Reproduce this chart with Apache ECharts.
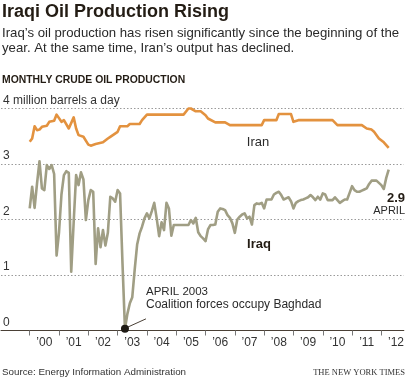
<!DOCTYPE html>
<html>
<head>
<meta charset="utf-8">
<script src="https://cdn.jsdelivr.net/npm/echarts@6/dist/echarts.min.js"></script>
<style>
html,body{margin:0;padding:0;background:#fff;}
#c{width:407px;height:380px;}
</style>
</head>
<body>
<div id="c"></div>
<script>
// ---- DATA ----
const START_YEAR = 2000; // Iraq series starts January 2000, monthly
const iraqValues = [
  2.20,2.59,2.21,2.65,3.05,2.56,2.53,2.98,2.91,2.98,2.82,1.35,
  1.77,2.45,2.80,2.87,2.84,1.06,1.95,2.80,2.62,2.85,2.72,1.99,
  2.35,2.53,2.50,1.20,1.84,1.50,1.81,1.53,1.76,2.41,2.38,2.32,
  2.53,2.47,1.20,0.03,0.30,0.49,0.60,1.10,1.55,1.75,1.87,2.02,
  2.11,2.02,2.15,2.30,2.02,1.70,1.95,1.81,2.30,2.20,1.71,1.90,
  1.90,1.90,1.90,1.90,1.90,1.90,1.99,1.93,2.03,1.77,1.70,1.66,
  1.61,1.82,1.90,1.90,1.91,2.14,2.20,2.19,2.17,2.08,2.03,1.93,
  1.76,2.00,2.05,2.09,2.11,2.02,2.05,1.91,2.26,2.29,2.28,2.30,
  2.20,2.36,2.36,2.36,2.45,2.48,2.50,2.44,2.36,2.38,2.40,2.33,
  2.20,2.30,2.33,2.35,2.36,2.38,2.40,2.44,2.40,2.35,2.41,2.36,
  2.47,2.45,2.35,2.35,2.35,2.40,2.35,2.30,2.33,2.36,2.36,2.48,
  2.60,2.53,2.50,2.50,2.52,2.54,2.56,2.64,2.70,2.70,2.70,2.66,
  2.62,2.55,2.75,2.90
];
const iranMonths = ['2000-01','2000-02','2000-03','2000-04','2000-05','2000-06','2000-08','2000-09','2000-11','2000-12',
  '2001-02','2001-03','2001-05','2001-07','2001-08','2001-09','2001-11',
  '2002-01','2002-02','2002-04','2002-07','2002-09','2002-10',
  '2003-01','2003-02','2003-05','2003-06','2003-10','2003-11',
  '2004-01',
  '2005-04','2005-06','2005-07','2005-09','2005-11',
  '2006-01','2006-02','2006-05','2006-09','2006-11',
  '2007-12',
  '2008-01','2008-06','2008-07','2008-12',
  '2009-01','2009-03',
  '2010-05','2010-07',
  '2011-05','2011-07','2011-09','2011-10','2011-12',
  '2012-02','2012-04'];
const iranValues = [3.40,3.46,3.68,3.61,3.62,3.67,3.69,3.76,3.78,3.89,
  3.76,3.79,3.64,3.84,3.64,3.52,3.49,
  3.35,3.33,3.36,3.39,3.46,3.49,
  3.58,3.68,3.68,3.72,3.72,3.79,
  3.89,
  3.89,4.00,4.00,3.95,3.95,
  3.88,3.82,3.75,3.75,3.70,
  3.70,
  3.79,3.79,3.90,3.90,
  3.76,3.79,
  3.79,3.70,
  3.70,3.64,3.62,3.58,3.46,
  3.39,3.29];
const yearLabels = ['\u201900','\u201901','\u201902','\u201903','\u201904','\u201905','\u201906','\u201907','\u201908','\u201909','\u201910','\u201911','\u201912'];
const yTickLabels = ['0','1','2','3','4 million barrels a day'];
const eventMonth = '2003-04';

// ---- helpers ----
function monthIndex(s){ const p = s.split('-'); return (+p[0]-START_YEAR)*12 + (+p[1]-1); }
const iraqData = iraqValues.map((v,i)=>[i,v]);
const iranData = iranMonths.map((m,i)=>[monthIndex(m), iranValues[i]]);
const yearTicks = yearLabels.map((_,i)=>i*12);
const yearMids = yearLabels.map((_,i)=>i*12+6);
const evIdx = monthIndex(eventMonth);

const FONT = 'Liberation Sans, Arial, Helvetica, sans-serif';
const chart = echarts.init(document.getElementById('c'), null, {renderer:'canvas'});
chart.setOption({
  animation:false,
  backgroundColor:'#fff',
  grid:{left:0,right:0,top:108.5,bottom:49.5},
  xAxis:{
    type:'value', min:-11.76, max:153.2,
    splitLine:{show:false},
    axisLine:{show:true,lineStyle:{color:'#4a4036',width:1}},
    axisTick:{show:true,customValues:yearTicks,length:5,inside:false,lineStyle:{color:'#777'}},
    axisLabel:{customValues:yearMids,margin:6,color:'#333',fontSize:12,fontFamily:FONT,
      formatter:(v)=>yearLabels[Math.round((v-6)/12)]}
  },
  yAxis:{
    type:'value', min:0, max:4, interval:1,
    axisLine:{show:false}, axisTick:{show:false},
    splitLine:{show:true,lineStyle:{color:'#9a9a9a',type:[1.5,2],width:1}},
    axisLabel:{inside:true,margin:2,verticalAlign:'bottom',padding:[0,0,2,0],color:'#333',fontSize:12,fontFamily:FONT,
      formatter:(v)=>yTickLabels[v]}
  },
  series:[
    {type:'line',name:'Iran',data:iranData,showSymbol:false,clip:false,
      lineStyle:{color:'#e3923f',width:2.6,join:'round'},z:3},
    {type:'line',name:'Iraq',data:iraqData,showSymbol:false,clip:false,
      lineStyle:{color:'#a09e84',width:2.6,join:'round'},z:4,
      markPoint:{symbol:'circle',symbolSize:8,silent:true,
        itemStyle:{color:'#1e1a14'},label:{show:false},
        data:[{coord:[evIdx,iraqValues[evIdx]]}]},
      markLine:{symbol:'none',silent:true,lineStyle:{color:'#4a4036',width:1,type:'solid'},label:{show:false},
        data:[[{coord:[evIdx+0.6,0.05]},{coord:[evIdx+8.6,0.21]}]]}
    }
  ],
  graphic:[
    {type:'text',style:{x:2,y:12,text:'Iraqi Oil Production Rising',font:'bold 18px '+FONT,fill:'#231c14',verticalAlign:'middle'}},
    {type:'text',style:{x:2,y:33,text:'Iraq\u2019s oil production has risen significantly since the beginning of the',font:'13.2px '+FONT,fill:'#2a2a2a',verticalAlign:'middle'}},
    {type:'text',style:{x:2,y:48,text:'year. At the same time, Iran\u2019s output has declined.',font:'13.2px '+FONT,fill:'#2a2a2a',verticalAlign:'middle'}},
    {type:'text',style:{x:2,y:80,text:'MONTHLY CRUDE OIL PRODUCTION',font:'bold 10.4px '+FONT,fill:'#231c14',verticalAlign:'middle'}},
    {type:'text',style:{x:258,y:142,text:'Iran',font:'13px '+FONT,fill:'#2a2a2a',align:'center',verticalAlign:'middle'}},
    {type:'text',style:{x:259,y:244,text:'Iraq',font:'bold 13px '+FONT,fill:'#231c14',align:'center',verticalAlign:'middle'}},
    {type:'text',style:{x:405,y:198,text:'2.9',font:'bold 13px '+FONT,fill:'#231c14',align:'right',verticalAlign:'middle'}},
    {type:'text',style:{x:405,y:211,text:'APRIL',font:'11px '+FONT,fill:'#2a2a2a',align:'right',verticalAlign:'middle'}},
    {type:'text',style:{x:146,y:292,text:'APRIL 2003',font:'11.5px '+FONT,fill:'#2a2a2a',verticalAlign:'middle'}},
    {type:'text',style:{x:146,y:305,text:'Coalition forces occupy Baghdad',font:'12px '+FONT,fill:'#2a2a2a',verticalAlign:'middle'}},
    {type:'text',style:{x:2,y:372.5,text:'Source: Energy Information Administration',font:'9.8px '+FONT,fill:'#333',verticalAlign:'middle'}},
    {type:'text',style:{x:405,y:373,text:'THE NEW YORK TIMES',font:'8.5px Liberation Serif, Times New Roman, serif',fill:'#333',align:'right',verticalAlign:'middle'}}
  ]
});
</script>
</body>
</html>
